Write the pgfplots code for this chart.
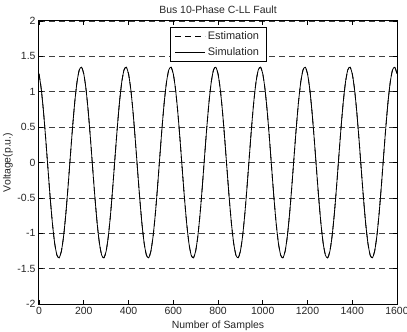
\documentclass[border=0pt]{standalone}
\usepackage{pgfplots}
\pgfplotsset{compat=1.18}
\usepackage{pgfplotstable}
\usepackage{fontspec}
\setmainfont{Liberation Sans}
\pgfplotstableread{
x y
0 1.255
10 1.040
20 0.723
30 0.336
40 -0.085
50 -0.497
60 -0.860
70 -1.140
80 -1.308
90 -1.347
100 -1.255
110 -1.040
120 -0.723
130 -0.336
140 0.085
150 0.497
160 0.860
170 1.140
180 1.308
190 1.347
200 1.255
210 1.040
220 0.723
230 0.336
240 -0.085
250 -0.497
260 -0.860
270 -1.140
280 -1.308
290 -1.347
300 -1.255
310 -1.040
320 -0.723
330 -0.336
340 0.085
350 0.497
360 0.860
370 1.140
380 1.308
390 1.347
400 1.255
410 1.040
420 0.723
430 0.336
440 -0.085
450 -0.497
460 -0.860
470 -1.140
480 -1.308
490 -1.347
500 -1.255
510 -1.040
520 -0.723
530 -0.336
540 0.085
550 0.497
560 0.860
570 1.140
580 1.308
590 1.347
600 1.255
610 1.040
620 0.723
630 0.336
640 -0.085
650 -0.497
660 -0.860
670 -1.140
680 -1.308
690 -1.347
700 -1.255
710 -1.040
720 -0.723
730 -0.336
740 0.085
750 0.497
760 0.860
770 1.140
780 1.308
790 1.347
800 1.255
810 1.040
820 0.723
830 0.336
840 -0.085
850 -0.497
860 -0.860
870 -1.140
880 -1.308
890 -1.347
900 -1.255
910 -1.040
920 -0.723
930 -0.336
940 0.085
950 0.497
960 0.860
970 1.140
980 1.308
990 1.347
1000 1.255
1010 1.040
1020 0.723
1030 0.336
1040 -0.085
1050 -0.497
1060 -0.860
1070 -1.140
1080 -1.308
1090 -1.347
1100 -1.255
1110 -1.040
1120 -0.723
1130 -0.336
1140 0.085
1150 0.497
1160 0.860
1170 1.140
1180 1.308
1190 1.347
1200 1.255
1210 1.040
1220 0.723
1230 0.336
1240 -0.085
1250 -0.497
1260 -0.860
1270 -1.140
1280 -1.308
1290 -1.347
1300 -1.255
1310 -1.040
1320 -0.723
1330 -0.336
1340 0.085
1350 0.497
1360 0.860
1370 1.140
1380 1.308
1390 1.347
1400 1.255
1410 1.040
1420 0.723
1430 0.336
1440 -0.085
1450 -0.497
1460 -0.860
1470 -1.140
1480 -1.308
1490 -1.347
1500 -1.255
1510 -1.040
1520 -0.723
1530 -0.336
1540 0.085
1550 0.497
1560 0.860
1570 1.140
1580 1.308
1590 1.347
1600 1.255
}\wave
\begin{document}
\begin{tikzpicture}
\begin{axis}[
  at={(0,0)}, anchor=south west,
  scale only axis, width=358bp, height=283bp,
  xmin=0, xmax=1600, ymin=-2, ymax=2,
  xtick={0,200,...,1600}, ytick={-2,-1.5,...,2},
  /pgf/number format/assume math mode=true,
  /pgf/number format/1000 sep={},
  tick align=inside, major tick length=4bp,
  tick style={black, line width=0.6bp},
  axis line style={black, line width=1bp},
  ymajorgrids,
  major grid style={black!75, dash pattern=on 6bp off 4bp, line width=0.6bp},
  tick label style={font=\fontsize{10.5}{12}\selectfont, black!85},
  every axis title shift=0pt,
  title={Bus 10-Phase C-LL Fault},
  title style={at={(axis description cs:0.5,1)}, anchor=center, yshift=11bp, font=\fontsize{10.5}{12}\selectfont, black!85},
  xlabel={Number of Samples},
  x label style={at={(axis description cs:0.5,0)}, anchor=center, yshift=-22bp, font=\fontsize{10.5}{12}\selectfont, black!85},
  ylabel={Voltage(p.u.)},
  y label style={at={(axis description cs:-0.0866,0.5)}, anchor=center, font=\fontsize{10.5}{12}\selectfont, black!85},
  legend style={at={(axis description cs:0.5,1)}, anchor=north, yshift=-6bp, draw=black, line width=0.8bp,
    font=\fontsize{11}{12}\selectfont, text=black!85, inner xsep=5bp, inner ysep=2.5bp, row sep=2bp},
  legend cell align=left,
  legend image code/.code={\draw[#1] (0bp,0bp) -- (30bp,0bp);},
]
\addplot[black, line width=0.8bp, dash pattern=on 6bp off 4bp, smooth, tension=0.4] table[x=x,y=y] {\wave};
\addlegendentry{Estimation}
\addplot[black, line width=0.8bp, smooth, tension=0.4] table[x=x,y=y] {\wave};
\addlegendentry{Simulation}
\end{axis}
\pgfresetboundingbox
\path (-39bp,-28bp) rectangle (368bp,304bp);
\end{tikzpicture}
\end{document}
